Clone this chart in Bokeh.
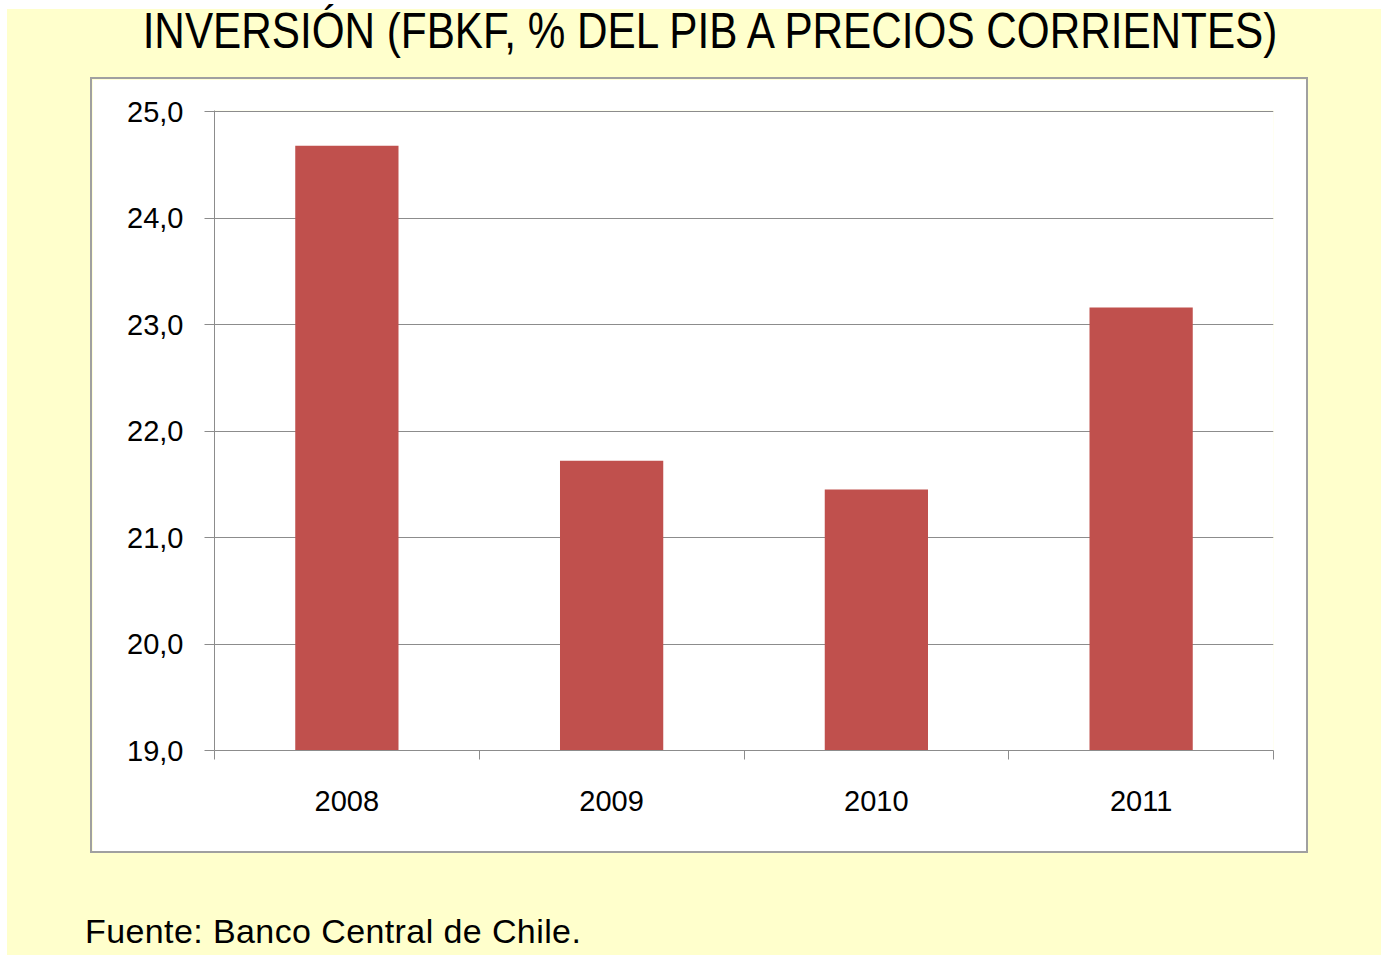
from bokeh.plotting import figure
from bokeh.models import Range1d, FixedTicker, Div, Column
from bokeh.embed import file_html
from bokeh.resources import INLINE

years = ["2008", "2009", "2010", "2011"]
values = [24.68, 21.72, 21.45, 23.16]
y_ticks = [19, 20, 21, 22, 23, 24, 25]
y_tick_labels = ["19,0", "20,0", "21,0", "22,0", "23,0", "24,0", "25,0"]
title_text = "INVERSIÓN (FBKF, % DEL PIB A PRECIOS CORRIENTES)"
source_text = "Fuente: Banco Central de Chile."

BG = "#FFFFCC"
GRAY = "#8c8c8c"
BAR = "#C0504D"

# ---- chart (white box) ----
p = figure(width=1214, height=772, output_backend="svg", toolbar_location=None,
           x_range=Range1d(0, len(years)), y_range=Range1d(y_ticks[0], y_ticks[-1] + 0.01),
           min_border_left=122, min_border_right=33, min_border_top=31,
           min_border_bottom=101,
           margin=(0, 0, 0, 85),
           styles={"outline": "2px solid #a0a0a0"})
p.border_fill_color = "white"
p.background_fill_color = "white"
p.outline_line_color = None

centers = [i + 0.5 for i in range(len(years))]
p.vbar(x=centers, top=values, bottom=y_ticks[0], width=0.39,
       fill_color=BAR, line_color=None)

xa = p.xaxis[0]
xa.ticker = FixedTicker(ticks=centers, minor_ticks=list(range(len(years) + 1)))
xa.major_label_overrides = {c: y for c, y in zip(centers, years)}
xa.major_tick_line_color = None
xa.major_tick_out = 9
xa.major_tick_in = 0
xa.minor_tick_line_color = GRAY
xa.minor_tick_out = 9
xa.minor_tick_in = 0
xa.axis_line_color = GRAY
xa.major_label_text_font = "Liberation Sans"
xa.major_label_text_font_size = "29px"
xa.major_label_text_color = "black"
xa.major_label_standoff = 31

ya = p.yaxis[0]
ya.ticker = FixedTicker(ticks=y_ticks, minor_ticks=[])
ya.major_label_overrides = {t: l for t, l in zip(y_ticks, y_tick_labels)}
ya.major_tick_line_color = GRAY
ya.major_tick_out = 10
ya.major_tick_in = 0
ya.minor_tick_line_color = None
ya.axis_line_color = GRAY
ya.major_label_text_font = "Liberation Sans"
ya.major_label_text_font_size = "29px"
ya.major_label_text_color = "black"
ya.major_label_standoff = 21

p.xgrid.visible = False
p.ygrid.ticker = FixedTicker(ticks=y_ticks)
p.ygrid.grid_line_color = GRAY
p.ygrid.grid_line_width = 1

# ---- texts ----
title = Div(text=title_text, width=1374, height=70, margin=(0, 0, 0, 0),
            styles={"font-family": "'Liberation Sans', sans-serif",
                    "font-size": "50px", "line-height": "44px", "color": "black",
                    "text-align": "center", "white-space": "nowrap",
                    "transform": "translateX(16px) scaleX(0.845)",
                    "transform-origin": "50% 50%"})

source = Div(text=source_text, width=700, height=34, margin=(63, 0, 0, 78),
             styles={"font-family": "'Liberation Sans', sans-serif",
                     "font-size": "34px", "line-height": "34px", "color": "black",
                     "letter-spacing": "0.4px", "white-space": "nowrap"})

layout = Column(children=[title, p, source], width=1374, height=946,
                margin=(9, 0, 0, 7), spacing=0,
                styles={"background-color": BG})

open("out.html", "w").write(file_html(layout, INLINE))
